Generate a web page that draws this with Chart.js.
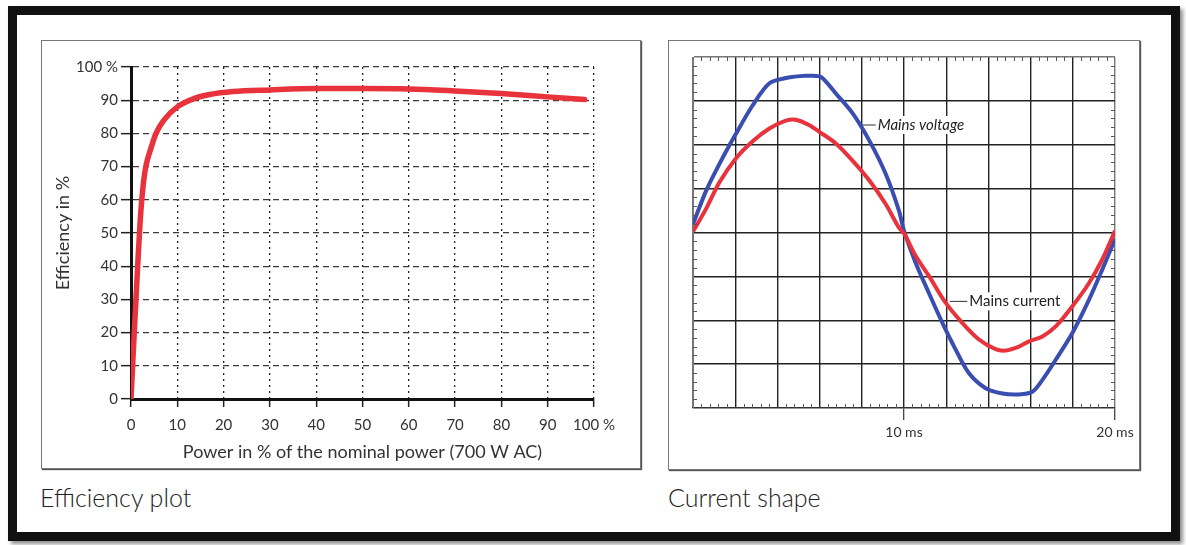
<!DOCTYPE html>
<html>
<head>
<meta charset="utf-8">
<title>Efficiency plot / Current shape</title>
<script src="https://cdn.jsdelivr.net/npm/chart.js"></script>
<style>
  html, body { margin: 0; padding: 0; background: #fff; }
  body { width: 1186px; height: 545px; position: relative; overflow: hidden; font-family: Lato, "Open Sans", sans-serif; }
  .frame { position: absolute; left: 8px; top: 6px; width: 1154px; height: 517px; border: 9px solid #111; box-shadow: 3px 3px 4px rgba(0,0,0,.45); }
  .panel { position: absolute; box-sizing: border-box; border: 1px solid #777; box-shadow: 1px 1px 1px #555; background: #fff; }
  canvas { position: absolute; }
  .caption { position: absolute; top: 482px; font-size: 25px; line-height: 30px; color: #222; font-weight: 300; }
</style>
</head>
<body>
<div class="frame"></div>
<div class="panel" style="left:41px; top:40px; width:600px; height:429px;"></div>
<div class="panel" style="left:668px; top:40px; width:472px; height:430px;"></div>
<canvas id="efficiency" width="600" height="429" style="left:41px; top:40px;"></canvas>
<canvas id="current" width="472" height="430" style="left:668px; top:40px;"></canvas>
<div class="caption" style="left:40px;">Efficiency plot</div>
<div class="caption" style="left:668px;">Current shape</div>

<script>
// efficiency curve: power in % of nominal vs efficiency in %
const powerPct = [0, 0.7, 1.4, 2.1, 2.6, 3.2, 4.3, 5.4, 7.1, 10, 13.6, 17, 22, 30, 40, 50, 60, 70, 80, 90, 98]
const efficiencyPct = [0, 20, 39, 56, 64, 70, 75.5, 80, 84, 88, 90.5, 91.7, 92.6, 93.1, 93.5, 93.5, 93.4, 92.8, 92, 91, 90.2]
const powerTicks = [0, 10, 20, 30, 40, 50, 60, 70, 80, 90, 100]
const efficiencyTicks = [0, 10, 20, 30, 40, 50, 60, 70, 80, 90, 100]

// one mains period (scope divisions on the y axis)
const voltageTimeMs = [0, 0.63, 1.26, 2.0, 2.83, 3.62, 4.4, 5.35, 6.0, 6.3, 6.77, 7.56, 8.35, 9.13, 9.76, 10, 10.55, 11.18, 11.82, 12.45, 13.08, 13.87, 14.66, 15.45, 16.08, 16.56, 17.19, 17.98, 18.77, 19.4, 20]
const voltageDiv = [0.19, 0.96, 1.57, 2.22, 2.9, 3.4, 3.52, 3.57, 3.56, 3.44, 3.17, 2.72, 2.1, 1.34, 0.5, 0.04, -0.69, -1.38, -2.06, -2.67, -3.21, -3.55, -3.67, -3.69, -3.63, -3.36, -2.9, -2.29, -1.53, -0.84, -0.15]
const currentTimeMs = [0, 0.63, 1.26, 2.05, 2.83, 3.62, 4.4, 4.88, 5.5, 6.0, 6.77, 7.56, 8.35, 9.13, 9.76, 10, 10.55, 11.18, 11.97, 12.76, 13.55, 14.34, 14.82, 15.45, 15.92, 16.56, 17.19, 17.98, 18.77, 19.4, 20]
const currentDiv = [0.02, 0.55, 1.15, 1.7, 2.08, 2.37, 2.55, 2.57, 2.45, 2.29, 2.03, 1.64, 1.19, 0.65, 0.11, -0.02, -0.53, -0.99, -1.6, -2.06, -2.44, -2.66, -2.69, -2.6, -2.48, -2.37, -2.14, -1.68, -1.15, -0.61, 0.04]
const timeLabels = [10, 20]

Chart.defaults.font.family = 'Lato'
Chart.defaults.color = '#333'

const toPoints = (xs, ys) => xs.map((x, i) => ({ x, y: ys[i] }))
const pctLabel = v => (v === 100 ? '100 %' : v)

// left: efficiency plot
new Chart(document.getElementById('efficiency'), {
  type: 'scatter',
  data: {
    datasets: [{
      data: toPoints(powerPct, efficiencyPct),
      showLine: true,
      borderColor: '#e8323c',
      borderWidth: 5.5,
      pointRadius: 0,
      cubicInterpolationMode: 'monotone',
      borderCapStyle: 'round'
    }]
  },
  options: {
    responsive: false,
    animation: false,
    events: [],
    layout: { padding: { top: 27, right: 47, left: 0, bottom: 0 } },
    plugins: { legend: { display: false }, tooltip: { enabled: false } },
    scales: {
      x: {
        type: 'linear',
        min: 0,
        max: 100,
        afterBuildTicks: s => { s.ticks = powerTicks.map(value => ({ value })) },
        ticks: { autoSkip: false, maxRotation: 0, padding: 9, callback: pctLabel, font: { size: 15 }, color: '#333' },
        grid: { color: '#222', lineWidth: 1.3, tickLength: 8, tickColor: '#222', tickWidth: 1.5 },
        border: { color: '#111', width: 3, dash: [2, 4] },
        title: { display: true, text: 'Power in % of the nominal power (700 W AC)', color: '#333', font: { size: 18 }, padding: { top: 0, bottom: 6 } },
        afterFit: s => { s.height = 70 }
      },
      y: {
        min: 0,
        max: 100,
        afterBuildTicks: s => { s.ticks = efficiencyTicks.map(value => ({ value })) },
        ticks: { autoSkip: false, padding: 3, callback: pctLabel, font: { size: 15 }, color: '#333' },
        grid: { color: '#3a3a3a', lineWidth: 1.3, tickLength: 10, tickColor: '#222', tickWidth: 1.5 },
        border: { color: '#111', width: 3, dash: [6, 4] },
        title: { display: true, text: 'Efficiency in %', color: '#333', font: { size: 18 }, padding: { top: 11, bottom: 0 } },
        afterFit: s => { s.width = 90 }
      }
    }
  }
})

// small inward ticks along all four edges of the scope grid
const minorTicks = {
  id: 'minorTicks',
  afterDraw (chart) {
    const { ctx, chartArea: a, scales: { x, y } } = chart
    ctx.save()
    ctx.strokeStyle = '#555'
    ctx.lineWidth = 1
    ctx.beginPath()
    for (let i = 1; i < 50; i++) {
      if (i % 5 === 0) continue
      const px = Math.round(x.getPixelForValue(i * 0.4)) + 0.5
      ctx.moveTo(px, a.top); ctx.lineTo(px, a.top + 4)
      ctx.moveTo(px, a.bottom); ctx.lineTo(px, a.bottom - 4)
    }
    for (let i = 1; i < 40; i++) {
      if (i % 5 === 0) continue
      const py = Math.round(y.getPixelForValue(-4 + i * 0.2)) + 0.5
      ctx.moveTo(a.left, py); ctx.lineTo(a.left + 4, py)
      ctx.moveTo(a.right, py); ctx.lineTo(a.right - 4, py)
    }
    ctx.stroke()
    ctx.restore()
  }
}

// leader-line labels for the two traces
const traceLabels = [
  { text: 'Mains voltage', from: 7.86, to: 8.66, y: 2.45, italic: true },
  { text: 'Mains current', from: 12.17, to: 13.0, y: -1.57, italic: false }
]
const traceLabelPlugin = {
  id: 'traceLabels',
  beforeDatasetsDraw (chart) {
    const { ctx, scales: { x, y } } = chart
    ctx.save()
    traceLabels.forEach(l => {
      const x0 = x.getPixelForValue(l.from)
      const x1 = x.getPixelForValue(l.to)
      const py = y.getPixelForValue(l.y)
      ctx.font = (l.italic ? 'italic ' : '') + '15px Lato'
      const w = ctx.measureText(l.text).width
      ctx.fillStyle = '#fff'
      ctx.fillRect(x1, py - 9, w + 4, 18)
      ctx.strokeStyle = '#333'
      ctx.lineWidth = 1
      ctx.beginPath()
      ctx.moveTo(x0, py); ctx.lineTo(x1, py)
      ctx.stroke()
      ctx.fillStyle = '#222'
      ctx.textBaseline = 'middle'
      ctx.fillText(l.text, x1 + 2, py)
    })
    ctx.restore()
  }
}

const edgeColor = (ctx, lo, hi) => (ctx.tick && (ctx.tick.value === lo || ctx.tick.value === hi) ? '#777' : '#222')

// right: current shape
new Chart(document.getElementById('current'), {
  type: 'scatter',
  data: {
    datasets: [{
      label: 'Mains current',
      data: toPoints(currentTimeMs, currentDiv),
      showLine: true,
      borderColor: '#e8323c',
      borderWidth: 4,
      pointRadius: 0,
      tension: 0.3
    }, {
      label: 'Mains voltage',
      data: toPoints(voltageTimeMs, voltageDiv),
      showLine: true,
      borderColor: '#3a4db0',
      borderWidth: 4,
      pointRadius: 0,
      tension: 0.3
    }]
  },
  plugins: [minorTicks, traceLabelPlugin],
  options: {
    responsive: false,
    animation: false,
    events: [],
    layout: { padding: { top: 17, right: 25, left: 25, bottom: 0 } },
    plugins: { legend: { display: false }, tooltip: { enabled: false } },
    scales: {
      x: {
        type: 'linear',
        min: 0,
        max: 20,
        ticks: {
          stepSize: 2,
          autoSkip: false,
          maxRotation: 0,
          padding: 4,
          font: { size: 14 },
          color: '#333',
          callback: v => (timeLabels.includes(v) ? v + ' ms' : '')
        },
        grid: {
          color: ctx => edgeColor(ctx, 0, 20),
          lineWidth: 1.4,
          tickLength: 12,
          tickWidth: 1.2,
          tickColor: ctx => (ctx.tick && timeLabels.includes(ctx.tick.value) ? '#333' : 'rgba(0,0,0,0)')
        },
        border: { color: '#333', width: 1.3 },
        afterFit: s => { s.height = 62 }
      },
      y: {
        min: -4,
        max: 4,
        ticks: { stepSize: 1, display: false },
        grid: { color: ctx => edgeColor(ctx, -4, 4), lineWidth: 1.4, drawTicks: false },
        border: { color: '#777', width: 1 },
        afterFit: s => { s.width = 0 }
      }
    }
  }
})
</script>
</body>
</html>
